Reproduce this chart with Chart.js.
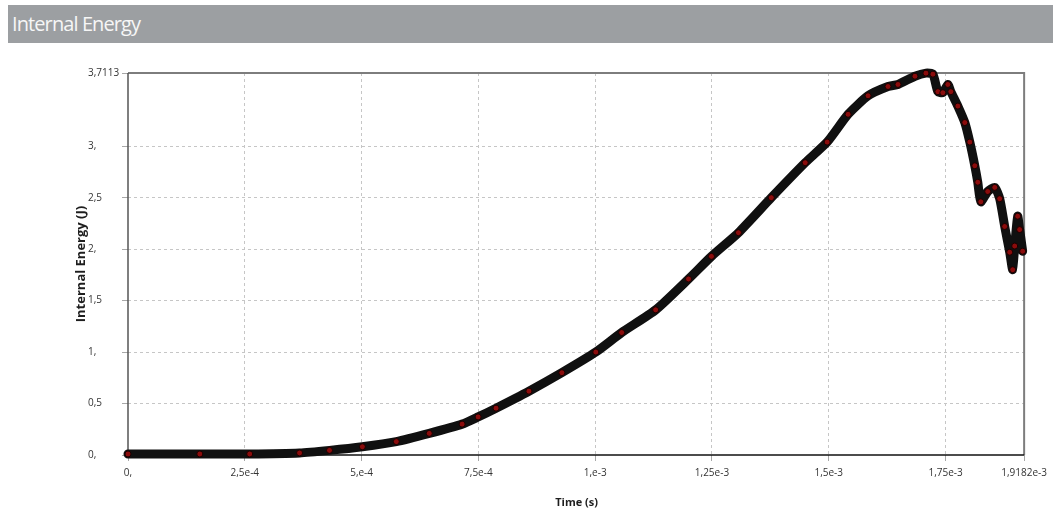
<!DOCTYPE html>
<html>
<head>
<meta charset="utf-8">
<script src="https://cdn.jsdelivr.net/npm/chart.js@4.4.1/dist/chart.umd.min.js"></script>
<style>
  html, body { margin: 0; padding: 0; background: #fff; }
  #wrap { position: relative; width: 1053px; height: 512px; overflow: hidden; }
  #bar {
    position: absolute; left: 8px; top: 5px; width: 1045px; height: 38px;
    background: #9c9fa2; color: #f6f6f6;
    font-family: "Open Sans", sans-serif; font-size: 20px; line-height: 38px;
    padding-left: 4px; box-sizing: border-box; letter-spacing: -0.9px;
  }
  canvas { position: absolute; left: 0; top: 0; }
</style>
</head>
<body>
<div id="wrap">
  <div id="bar">Internal Energy</div>
  <canvas id="c" width="1053" height="512"></canvas>
</div>
<script>
// Simulation output: time (s) and internal energy (J)
const timeValues = [
  0, 1.537e-4, 2.605e-4, 3.672e-4, 4.313e-4, 5.017e-4, 5.743e-4, 6.448e-4,
  7.152e-4, 7.494e-4, 7.878e-4, 8.582e-4, 9.287e-4, 1.0013e-3, 1.0568e-3,
  1.1294e-3, 1.1998e-3, 1.2489e-3, 1.3066e-3, 1.3770e-3, 1.4496e-3, 1.4966e-3,
  1.5414e-3, 1.5841e-3, 1.6268e-3, 1.6482e-3, 1.6845e-3, 1.7080e-3, 1.7229e-3,
  1.7336e-3, 1.7442e-3, 1.7549e-3, 1.7613e-3, 1.7763e-3, 1.7912e-3, 1.8019e-3,
  1.8126e-3, 1.8190e-3, 1.8254e-3, 1.8403e-3, 1.8553e-3, 1.8659e-3, 1.8766e-3,
  1.8873e-3, 1.8937e-3, 1.8980e-3, 1.9044e-3, 1.9086e-3, 1.9150e-3
];
const energyValues = [
  0.01, 0.01, 0.01, 0.02, 0.045, 0.08, 0.13, 0.21,
  0.30, 0.37, 0.455, 0.62, 0.80, 1.00, 1.19,
  1.41, 1.71, 1.93, 2.16, 2.50, 2.84, 3.04,
  3.31, 3.49, 3.58, 3.60, 3.68, 3.71, 3.70,
  3.53, 3.52, 3.60, 3.53, 3.39, 3.23, 3.04,
  2.81, 2.65, 2.46, 2.56, 2.60, 2.49, 2.22,
  1.97, 1.80, 2.03, 2.32, 2.19, 1.98
];

// Axis ticks and their labels (comma decimal separator)
const xTickValues = [0, 2.5e-4, 5e-4, 7.5e-4, 1e-3, 1.25e-3, 1.5e-3, 1.75e-3, 1.9182e-3];
const xTickLabels = ['0,', '2,5e-4', '5,e-4', '7,5e-4', '1,e-3', '1,25e-3', '1,5e-3', '1,75e-3', '1,9182e-3'];
const yTickValues = [0, 0.5, 1, 1.5, 2, 2.5, 3, 3.7113];
const yTickLabels = ['0,', '0,5', '1,', '1,5', '2,', '2,5', '3,', '3,7113'];

const xTitle = 'Time (s)';
const yTitle = 'Internal Energy (J)';

const points = timeValues.map((t, i) => ({ x: t, y: energyValues[i] }));

const gridColor = '#c6c6c6';
const tickFont = { family: '"Open Sans", sans-serif', size: 10 };

// Plot frame: grey box, darker left and bottom axis lines
const framePlugin = {
  id: 'frame',
  beforeDatasetsDraw(chart) {
    const { ctx, chartArea: a } = chart;
    ctx.save();
    ctx.strokeStyle = '#7d7d7d';
    ctx.lineWidth = 2;
    ctx.beginPath();
    ctx.moveTo(a.left, a.top);
    ctx.lineTo(a.right, a.top);
    ctx.lineTo(a.right, a.bottom);
    ctx.stroke();
    ctx.strokeStyle = '#555';
    ctx.lineWidth = 1.5;
    ctx.beginPath();
    ctx.moveTo(a.left, a.top);
    ctx.lineTo(a.left, a.bottom);
    ctx.stroke();
    ctx.strokeStyle = '#111';
    ctx.beginPath();
    ctx.moveTo(a.left, a.bottom);
    ctx.lineTo(a.right, a.bottom);
    ctx.stroke();
    ctx.restore();
  }
};

// Axis titles
const titlesPlugin = {
  id: 'axisTitles',
  afterDraw(chart) {
    const { ctx, chartArea: a } = chart;
    ctx.save();
    ctx.fillStyle = '#1e1e1e';
    ctx.textAlign = 'center';
    ctx.textBaseline = 'middle';
    ctx.font = 'bold 11px "Open Sans", sans-serif';
    ctx.fillText(xTitle, (a.left + a.right) / 2 + 0.5, 503);
    ctx.font = 'bold 13px "Open Sans", sans-serif';
    ctx.translate(81, 264);
    ctx.rotate(-Math.PI / 2);
    ctx.fillText(yTitle, 0, 0);
    ctx.restore();
  }
};

new Chart(document.getElementById('c'), {
  type: 'line',
  data: {
    datasets: [{
      data: points,
      borderColor: '#101010',
      borderWidth: 9,
      borderJoinStyle: 'round',
      borderCapStyle: 'round',
      tension: 0.2,
      pointRadius: 3,
      pointBackgroundColor: '#8a0c0c',
      pointBorderColor: '#1a0000',
      pointBorderWidth: 1,
      fill: false,
      clip: 6
    }]
  },
  options: {
    responsive: false,
    devicePixelRatio: 1,
    animation: false,
    events: [],
    layout: { padding: { left: 88, right: 28, top: 73, bottom: 0 } },
    plugins: { legend: { display: false }, tooltip: { enabled: false } },
    scales: {
      x: {
        type: 'linear',
        min: 0,
        max: 1.9182e-3,
        afterFit(s) { s.height = 57; },
        afterBuildTicks(s) { s.ticks = xTickValues.map(v => ({ value: v })); },
        ticks: {
          autoSkip: false, maxRotation: 0, padding: 6,
          color: '#333', font: tickFont,
          callback: (v, i) => xTickLabels[i]
        },
        grid: {
          color: c => (c.index === 0 || c.index === xTickValues.length - 1) ? 'rgba(0,0,0,0)' : gridColor,
          tickColor: '#a8a8a8',
          tickLength: 6,
          lineWidth: 1
        },
        border: { display: false, dash: [3, 3] }
      },
      y: {
        type: 'linear',
        min: 0,
        max: 3.7113,
        afterFit(s) { s.width = 40; },
        afterBuildTicks(s) { s.ticks = yTickValues.map(v => ({ value: v })); },
        ticks: {
          autoSkip: false, crossAlign: 'far', padding: 6,
          color: '#333', font: tickFont,
          callback: (v, i) => yTickLabels[i]
        },
        grid: {
          color: c => (c.index === 0 || c.index === yTickValues.length - 1) ? 'rgba(0,0,0,0)' : gridColor,
          tickColor: '#a8a8a8',
          tickLength: 6,
          lineWidth: 1
        },
        border: { display: false, dash: [3, 3] }
      }
    }
  },
  plugins: [framePlugin, titlesPlugin]
});
</script>
</body>
</html>
